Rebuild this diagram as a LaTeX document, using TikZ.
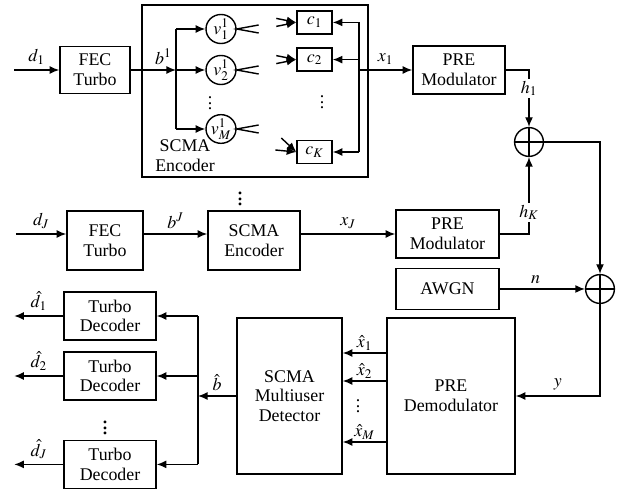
\documentclass[tikz,border=0pt]{standalone}
\usepackage{mathptmx}
\usepackage{fontspec}
\setmainfont{Liberation Serif}
\usetikzlibrary{positioning, arrows.meta, calc, shapes.geometric}

\begin{document}
\begin{tikzpicture}[>={Latex[length=2.4mm,width=2mm]}, line width=1pt,
    every node/.style={font=\fontsize{12.7}{14}\selectfont},
    blk/.style={draw, line width=1.1pt, align=center, inner sep=0pt},
    vnode/.style={ellipse, draw, minimum width=0.75cm, minimum height=0.625cm, inner sep=0pt},
    cbox/.style={draw, minimum width=0.875cm, minimum height=0.575cm, inner sep=0pt},
    sumnode/.style={circle, draw, minimum size=0.72cm, inner sep=0pt,
        path picture={\draw (path picture bounding box.north) -- (path picture bounding box.south)
                            (path picture bounding box.west) -- (path picture bounding box.east);}},
    bigdots/.style={font=\fontsize{17}{17}\selectfont, inner sep=0pt}]

    \useasboundingbox (0,0) rectangle (15.575,12.35);

    % --- User 1 transmitter ---
    \coordinate (d1) at (0.35, 10.6);
    \node[blk, minimum width=1.75cm, minimum height=1.175cm] (fec1) at (2.375, 10.6) {FEC\\Turbo};
    \draw[->] (d1) -- node[above] {$d_1$} (fec1.west);

    % SCMA encoder 1
    \node[blk, minimum width=5.65cm, minimum height=4.3cm] (enc1) at (6.375, 10.075) {};
    \node[align=center, inner sep=1pt] (enclbl) at (4.625, 8.45) {SCMA\\Encoder};
    \coordinate (br) at (4.4, 10.6);
    \draw[->] (fec1.east) -- node[above, pos=0.72] {$b^1$} (br);

    \node[vnode] (v1) at (5.525, 11.625) {$v^1_1$};
    \node[vnode] (v2) at (5.525, 10.6) {$v^1_2$};
    \node[vnode] (vM) at (5.525, 9.125) {$v^1_M$};
    \node (vdots) at (5.25, 9.875) {$\vdots$};
    \draw (br |- v1) -- (br |- vM);
    \draw[->] (br |- v1) -- (v1.west);
    \draw[->] (br) -- (v2.west);
    \draw[->] (br |- vM) -- (vM.west);
    \foreach \v in {v1, v2, vM}
        \draw ($(\v.east)+(0.55,0.1)$) -- (\v.east) -- ($(\v.east)+(0.55,-0.1)$);

    \node[cbox] (c1) at (7.8625, 11.79) {$c_1$};
    \node[cbox] (c2) at (7.8625, 10.86) {$c_2$};
    \node[cbox] (cK) at (7.8625, 8.55) {$c_K$};
    \node (cdots) at (8.05, 9.9) {$\vdots$};
    \foreach \c in {c1, c2} {
        \draw[->] ($(\c.west)+(-0.5,0.1)$) -- (\c.west);
        \draw[->] ($(\c.west)+(-0.5,-0.1)$) -- (\c.west);
    }
    \draw[->] ($(cK.west)+(-0.375,0.35)$) -- (cK.west);
    \draw[->] ($(cK.west)+(-0.525,0.05)$) -- (cK.west);

    \coordinate (cb) at (8.975, 10.6);
    \draw (cb |- c1) -- (cb |- cK);
    \foreach \c in {c1, c2, cK}
        \draw[->] (cb |- \c) -- (\c.east);

    % PRE modulator 1
    \node[blk, minimum width=2.3cm, minimum height=1.2cm] (pre1) at (11.475, 10.6) {PRE\\Modulator};
    \draw[->] (cb) -- node[above] {$x_1$} (pre1.west);

    \node[bigdots] (encdots) at (6.0, 7.475) {$\vdots$};

    % --- User J transmitter ---
    \coordinate (dJ) at (0.4, 6.5);
    \node[blk, minimum width=1.9cm, minimum height=1.475cm] (fec2) at (2.625, 6.3375) {FEC\\Turbo};
    \node[blk, minimum width=2.3cm, minimum height=1.475cm] (enc2) at (6.35, 6.3375) {SCMA\\Encoder};
    \node[blk, minimum width=2.575cm, minimum height=1.2cm] (pre2) at (11.1875, 6.5) {PRE\\Modulator};
    \draw[->] (dJ) -- node[above] {$d_J$} (dJ -| fec2.west);
    \draw[->] (dJ -| fec2.east) -- node[above] {$b^J$} (dJ -| enc2.west);
    \draw[->] (dJ -| enc2.east) -- node[above] {$x_J$} (pre2.west);

    % --- Channel ---
    \node[sumnode] (sum1) at (13.225, 8.8) {};
    \node[sumnode] (sum2) at (15.0, 5.125) {};
    \node[blk, minimum width=2.575cm, minimum height=1.025cm] (awgn) at (11.1875, 5.125) {AWGN};
    \draw[->] (pre1.east) -| node[pos=0.66, fill=white, inner sep=1.5pt] {$h_1$} (sum1.north);
    \draw[->] (pre2.east) -| node[pos=0.64, fill=white, inner sep=1.5pt] {$h_K$} (sum1.south);
    \draw[->] (sum1.east) -| (sum2.north);
    \draw[->] (awgn.east) -- node[above, pos=0.42] {$n$} (sum2.west);

    % --- Receiver ---
    \node[blk, minimum width=3.2cm, minimum height=3.9cm] (dem) at (11.275, 2.45) {PRE\\Demodulator};
    \node[blk, minimum width=2.625cm, minimum height=3.9cm] (mud) at (7.2375, 2.45) {SCMA\\Multiuser\\Detector};
    \draw[->] (sum2.south) |- node[pos=0.75, above] {$y$} (dem.east);
    \foreach \dy/\lab in {1.075/1, 0.375/2, -1.15/M}
        \draw[->] ($(dem.west)+(0,\dy)$) -- node[above, inner sep=1.5pt] {$\hat{x}_\lab$} ($(mud.east)+(0,\dy)$);
    \node (xdots) at (8.95, 2.3) {$\vdots$};

    \coordinate (bbus) at (4.95, 2.45);
    \draw[->] (mud.west) -- node[above] {$\hat{b}$} (bbus);

    % Turbo decoders
    \node[blk, minimum width=2.3cm, minimum height=1.2cm] (td1) at (2.75, 4.45) {Turbo\\Decoder};
    \node[blk, minimum width=2.3cm, minimum height=1.2cm] (td2) at (2.75, 2.95) {Turbo\\Decoder};
    \node[blk, minimum width=2.3cm, minimum height=1.2cm] (td3) at (2.75, 0.74) {Turbo\\Decoder};
    \node[bigdots] (tddots) at (2.625, 1.75) {$\vdots$};
    \draw (bbus |- td1) -- (bbus |- td3);
    \foreach \t in {td1, td2, td3}
        \draw[->] (bbus |- \t) -- (\t.east);
    \draw[->] (td1.west) -- node[above] {$\hat{d}_1$} ($(td1.west)+(-1.225,0)$);
    \draw[->] (td2.west) -- node[above] {$\hat{d}_2$} ($(td2.west)+(-1.225,0)$);
    \draw[->] (td3.west) -- node[above] {$\hat{d}_J$} ($(td3.west)+(-1.225,0)$);

\end{tikzpicture}
\end{document}
